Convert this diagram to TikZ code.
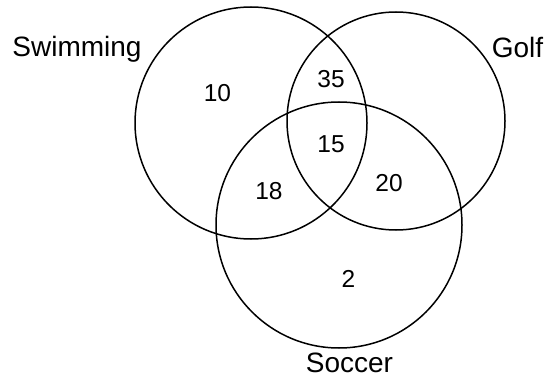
\documentclass[tikz,border=0pt]{standalone}
\usepackage{fontspec}
\setmainfont{Liberation Sans}
\begin{document}
\begin{tikzpicture}[x=1pt,y=-1pt,
  ring/.style={draw=black,line width=1.5pt},
  setlabel/.style={anchor=base,inner sep=0pt,font=\fontsize{28}{32}\selectfont},
  count/.style={anchor=base,inner sep=0pt,font=\fontsize{24.5}{28}\selectfont}]
\useasboundingbox (0,0) rectangle (546,377);
\draw[ring] (251,123) circle[radius=116];
\draw[ring] (396,121) circle[radius=109];
\draw[ring] (339,225) circle[radius=123];
\node[setlabel] (swim) at (77,57) {Swimming};
\node[setlabel] (golf) at (517.5,58) {Golf};
\node[setlabel] (soccer) at (349.5,372) {Soccer};
\node[count] (n10) at (217.5,102) {10};
\node[count] (n35) at (331,88) {35};
\node[count] (n15) at (331,153) {15};
\node[count] (n18) at (269,199) {18};
\node[count] (n20) at (389,191) {20};
\node[count] (n2) at (348.5,287) {2};
\end{tikzpicture}
\end{document}
